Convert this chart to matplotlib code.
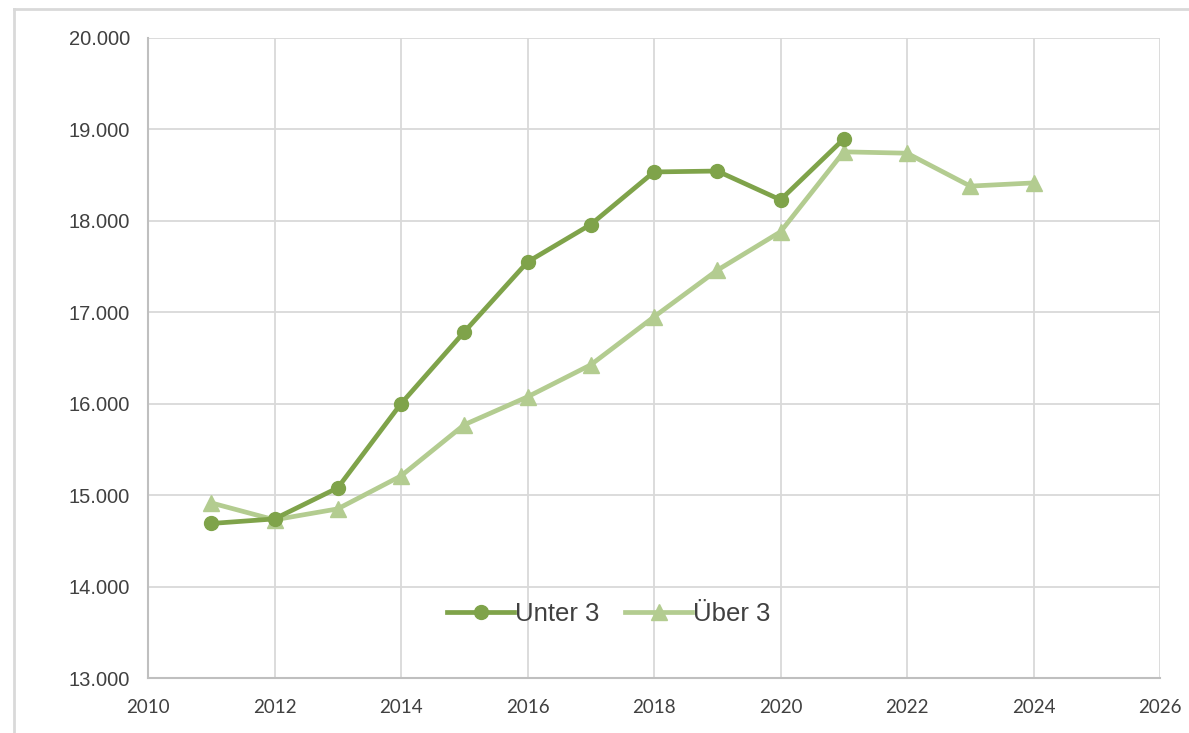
import numpy as np
import matplotlib
matplotlib.use("Agg")
import matplotlib.pyplot as plt
from matplotlib.lines import Line2D
from matplotlib.ticker import FuncFormatter

# data
years_unter = [2011, 2012, 2013, 2014, 2015, 2016, 2017, 2018, 2019, 2020, 2021]
unter_3 = [14690, 14740, 15080, 16000, 16785, 17550, 17960, 18535, 18545, 18230, 18895]

years_ueber = [2011, 2012, 2013, 2014, 2015, 2016, 2017, 2018, 2019, 2020, 2021, 2022, 2023, 2024]
ueber_3 = [14915, 14730, 14850, 15210, 15770, 16075, 16425, 16950, 17460, 17880, 18755, 18740, 18380, 18415]

x_ticks = [2010, 2012, 2014, 2016, 2018, 2020, 2022, 2024, 2026]
y_ticks = [13000, 14000, 15000, 16000, 17000, 18000, 19000, 20000]

dark_green = "#7FA34A"
light_green = "#B3CC90"

fig = plt.figure(figsize=(11.89, 7.33), dpi=100)
W, H = 1189, 733
ax = fig.add_axes([148 / W, 1 - 678 / H, (1160 - 148) / W, (678 - 38) / H])

# outer chart frame (top and left visible)
fig.add_artist(Line2D([14 / W, 14 / W], [0, 1 - 9 / H], color="#d9d9d9", lw=2))
fig.add_artist(Line2D([14 / W, 1], [1 - 9 / H, 1 - 9 / H], color="#d9d9d9", lw=2))

ax.plot(years_unter, unter_3, color=dark_green, lw=3.4, marker="o", markersize=10,
        label="Unter 3", zorder=4)
ax.plot(years_ueber, ueber_3, color=light_green, lw=3.4, marker="^", markersize=11,
        label="Über 3", zorder=3)

ax.set_xlim(2010, 2026)
ax.set_ylim(13000, 20000)
ax.set_xticks(x_ticks)
ax.set_yticks(y_ticks)
ax.yaxis.set_major_formatter(FuncFormatter(lambda v, p: f"{int(v):,}".replace(",", ".")))

ax.grid(True, color="#d9d9d9", lw=1.3)
ax.set_axisbelow(True)
for side in ["top", "right"]:
    ax.spines[side].set_visible(False)
for side in ["left", "bottom"]:
    ax.spines[side].set_color("#bfbfbf")
    ax.spines[side].set_linewidth(1.5)
ax.tick_params(length=0)
ax.tick_params(axis="y", pad=13, labelsize=14.5, labelcolor="#404040")
ax.tick_params(axis="x", pad=15, labelsize=13.5, labelcolor="#404040")
for lbl in ax.get_yticklabels():
    lbl.set_fontfamily("Liberation Sans")
for lbl in ax.get_xticklabels():
    lbl.set_fontfamily("Lato")

leg = ax.legend(loc="center", bbox_to_anchor=((609 - 148) / (1160 - 148), (678 - 614) / (678 - 38)),
                ncol=2, frameon=False, handlelength=2.6, handletextpad=0.05, columnspacing=1.0,
                prop={"family": "Liberation Sans", "size": 18.5})
for t in leg.get_texts():
    t.set_color("#404040")

fig.savefig("out.png", dpi=100)
